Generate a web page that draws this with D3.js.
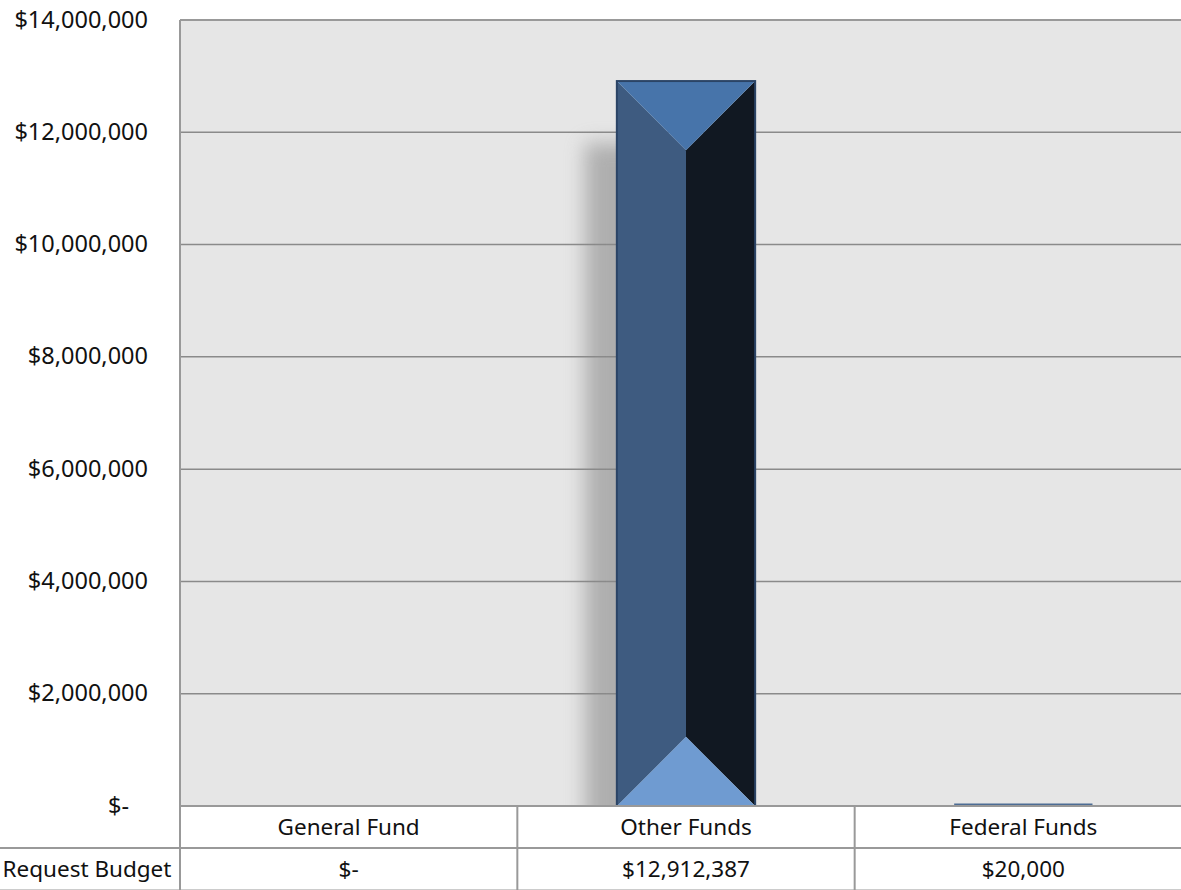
<!DOCTYPE html>
<html>
<head>
<meta charset="utf-8">
<script src="https://cdn.jsdelivr.net/npm/d3@7"></script>
<style>
  body { margin: 0; background: #fff; }
  svg { display: block; }
  text { font-family: "Noto Sans", "Open Sans", sans-serif; fill: #111; }
</style>
</head>
<body>
<svg id="chart" width="1181" height="890"></svg>
<script>
// chart data
var categories = ["General Fund", "Other Funds", "Federal Funds"];
var seriesName = "Request Budget";
var values = [0, 12912387, 20000];
var valueLabels = ["$-", "$12,912,387", "$20,000"];
var yTicks = [0, 2000000, 4000000, 6000000, 8000000, 10000000, 12000000, 14000000];

var svg = d3.select("#chart"),
    margin = { top: 20, left: 180, right: -11, bottom: 84 },
    width = 1181 - margin.left - margin.right,
    height = 890 - margin.top - margin.bottom,
    rowH = 42;

var x = d3.scaleBand()
    .domain(categories)
    .range([margin.left, margin.left + width])
    .paddingInner(0.59)
    .paddingOuter(0.295);

var cell = d3.scaleBand()
    .domain(categories)
    .range([margin.left, margin.left + width]);

var y = d3.scaleLinear()
    .domain([0, 14000000])
    .range([margin.top + height, margin.top]);

var fmt = function(v) {
    return v === 0 ? "$-" : "$" + d3.format(",")(v);
};

var defs = svg.append("defs");
defs.append("filter").attr("id", "blur")
    .attr("x", "-50%").attr("y", "-20%").attr("width", "200%").attr("height", "140%")
    .append("feGaussianBlur").attr("stdDeviation", 10);
defs.append("clipPath").attr("id", "plotClip")
    .append("rect")
    .attr("x", margin.left).attr("y", margin.top)
    .attr("width", width).attr("height", height);

// plot background
svg.append("rect")
    .attr("x", margin.left).attr("y", margin.top)
    .attr("width", width).attr("height", height)
    .attr("fill", "#e6e6e6");

// gridlines
svg.append("g")
    .selectAll("line")
    .data(yTicks)
    .enter().append("line")
    .attr("x1", margin.left).attr("x2", margin.left + width)
    .attr("y1", function(d) { return y(d); })
    .attr("y2", function(d) { return y(d); })
    .attr("stroke", function(d) { return d === 14000000 ? "#999" : "#8a8a8a"; })
    .attr("stroke-width", function(d) { return d === 14000000 ? 2 : 1.5; });

// y labels
svg.append("g")
    .selectAll("text")
    .data(yTicks)
    .enter().append("text")
    .attr("x", function(d) { return d === 0 ? 129 : 148; })
    .attr("y", function(d) { return y(d); })
    .attr("dy", "0.32em")
    .attr("text-anchor", "end")
    .style("font-size", "23.5px")
    .text(fmt);

// bars
var plot = svg.append("g").attr("clip-path", "url(#plotClip)");
var data = categories.map(function(c, i) { return { cat: c, value: values[i] }; });

data.forEach(function(d) {
    if (d.value <= 0) return;
    var x0 = x(d.cat), x1 = x0 + x.bandwidth(), yt = y(d.value), yb = y(0);
    var h = yb - yt;
    if (h < 3) {
        plot.append("rect")
            .attr("x", x0).attr("y", yb - 2.5)
            .attr("width", x1 - x0).attr("height", 2.5)
            .attr("fill", "#4d6c94");
        return;
    }
    var bev = Math.min(x.bandwidth() / 2, h / 2);
    var xm = (x0 + x1) / 2;
    // soft shadow
    plot.append("rect")
        .attr("x", x0 - 32).attr("y", yt + 62)
        .attr("width", x.bandwidth()).attr("height", h)
        .attr("fill", "#8a8a8a")
        .attr("opacity", 0.6)
        .attr("filter", "url(#blur)");
    var g = plot.append("g");
    // left face
    g.append("polygon")
        .attr("points", [[x0, yt], [xm, yt + bev], [xm, yb - bev], [x0, yb]].join(" "))
        .attr("fill", "#3e5b80");
    // right face
    g.append("polygon")
        .attr("points", [[x1, yt], [xm, yt + bev], [xm, yb - bev], [x1, yb]].join(" "))
        .attr("fill", "#111822");
    // top
    g.append("polygon")
        .attr("points", [[x0, yt], [x1, yt], [xm, yt + bev]].join(" "))
        .attr("fill", "#4774aa");
    // bottom
    g.append("polygon")
        .attr("points", [[x0, yb], [x1, yb], [xm, yb - bev]].join(" "))
        .attr("fill", "#6f9bd1");
    g.append("rect")
        .attr("x", x0).attr("y", yt)
        .attr("width", x.bandwidth()).attr("height", h)
        .attr("fill", "none")
        .attr("stroke", "#2b4466")
        .attr("stroke-width", 2);
});

// data table
var tTop = margin.top + height;
var table = svg.append("g");
table.append("rect")
    .attr("x", margin.left).attr("y", tTop)
    .attr("width", width).attr("height", rowH)
    .attr("fill", "#fff");

var lineColor = "#999";
// horizontal lines
table.append("line")
    .attr("x1", margin.left).attr("x2", 1181)
    .attr("y1", tTop).attr("y2", tTop)
    .attr("stroke", lineColor).attr("stroke-width", 2);
table.append("line")
    .attr("x1", 0).attr("x2", 1181)
    .attr("y1", tTop + rowH).attr("y2", tTop + rowH)
    .attr("stroke", lineColor).attr("stroke-width", 2);
table.append("line")
    .attr("x1", 0).attr("x2", 1181)
    .attr("y1", tTop + 2 * rowH - 0.5).attr("y2", tTop + 2 * rowH - 0.5)
    .attr("stroke", "#ccc").attr("stroke-width", 1);
// left axis line
table.append("line")
    .attr("x1", margin.left).attr("x2", margin.left)
    .attr("y1", margin.top).attr("y2", tTop + 2 * rowH)
    .attr("stroke", lineColor).attr("stroke-width", 2);
// cell separators
table.selectAll(".sep")
    .data(categories.slice(1))
    .enter().append("line")
    .attr("class", "sep")
    .attr("x1", function(d) { return cell(d); })
    .attr("x2", function(d) { return cell(d); })
    .attr("y1", tTop).attr("y2", tTop + 2 * rowH)
    .attr("stroke", lineColor).attr("stroke-width", 2);

table.selectAll(".cat")
    .data(categories)
    .enter().append("text")
    .attr("class", "cat")
    .attr("x", function(d) { return cell(d) + cell.bandwidth() / 2; })
    .attr("y", tTop + rowH / 2)
    .attr("dy", "0.35em")
    .attr("text-anchor", "middle")
    .style("font-size", "22.5px")
    .text(function(d) { return d; });

table.selectAll(".val")
    .data(categories)
    .enter().append("text")
    .attr("class", "val")
    .attr("x", function(d) { return cell(d) + cell.bandwidth() / 2; })
    .attr("y", tTop + rowH * 1.5)
    .attr("dy", "0.35em")
    .attr("text-anchor", "middle")
    .style("font-size", "22.5px")
    .text(function(d, i) { return valueLabels[i]; });

table.append("text")
    .attr("x", margin.left / 2 - 3)
    .attr("y", tTop + rowH * 1.5)
    .attr("dy", "0.35em")
    .attr("text-anchor", "middle")
    .style("font-size", "22.5px")
    .text(seriesName);
</script>
</body>
</html>
